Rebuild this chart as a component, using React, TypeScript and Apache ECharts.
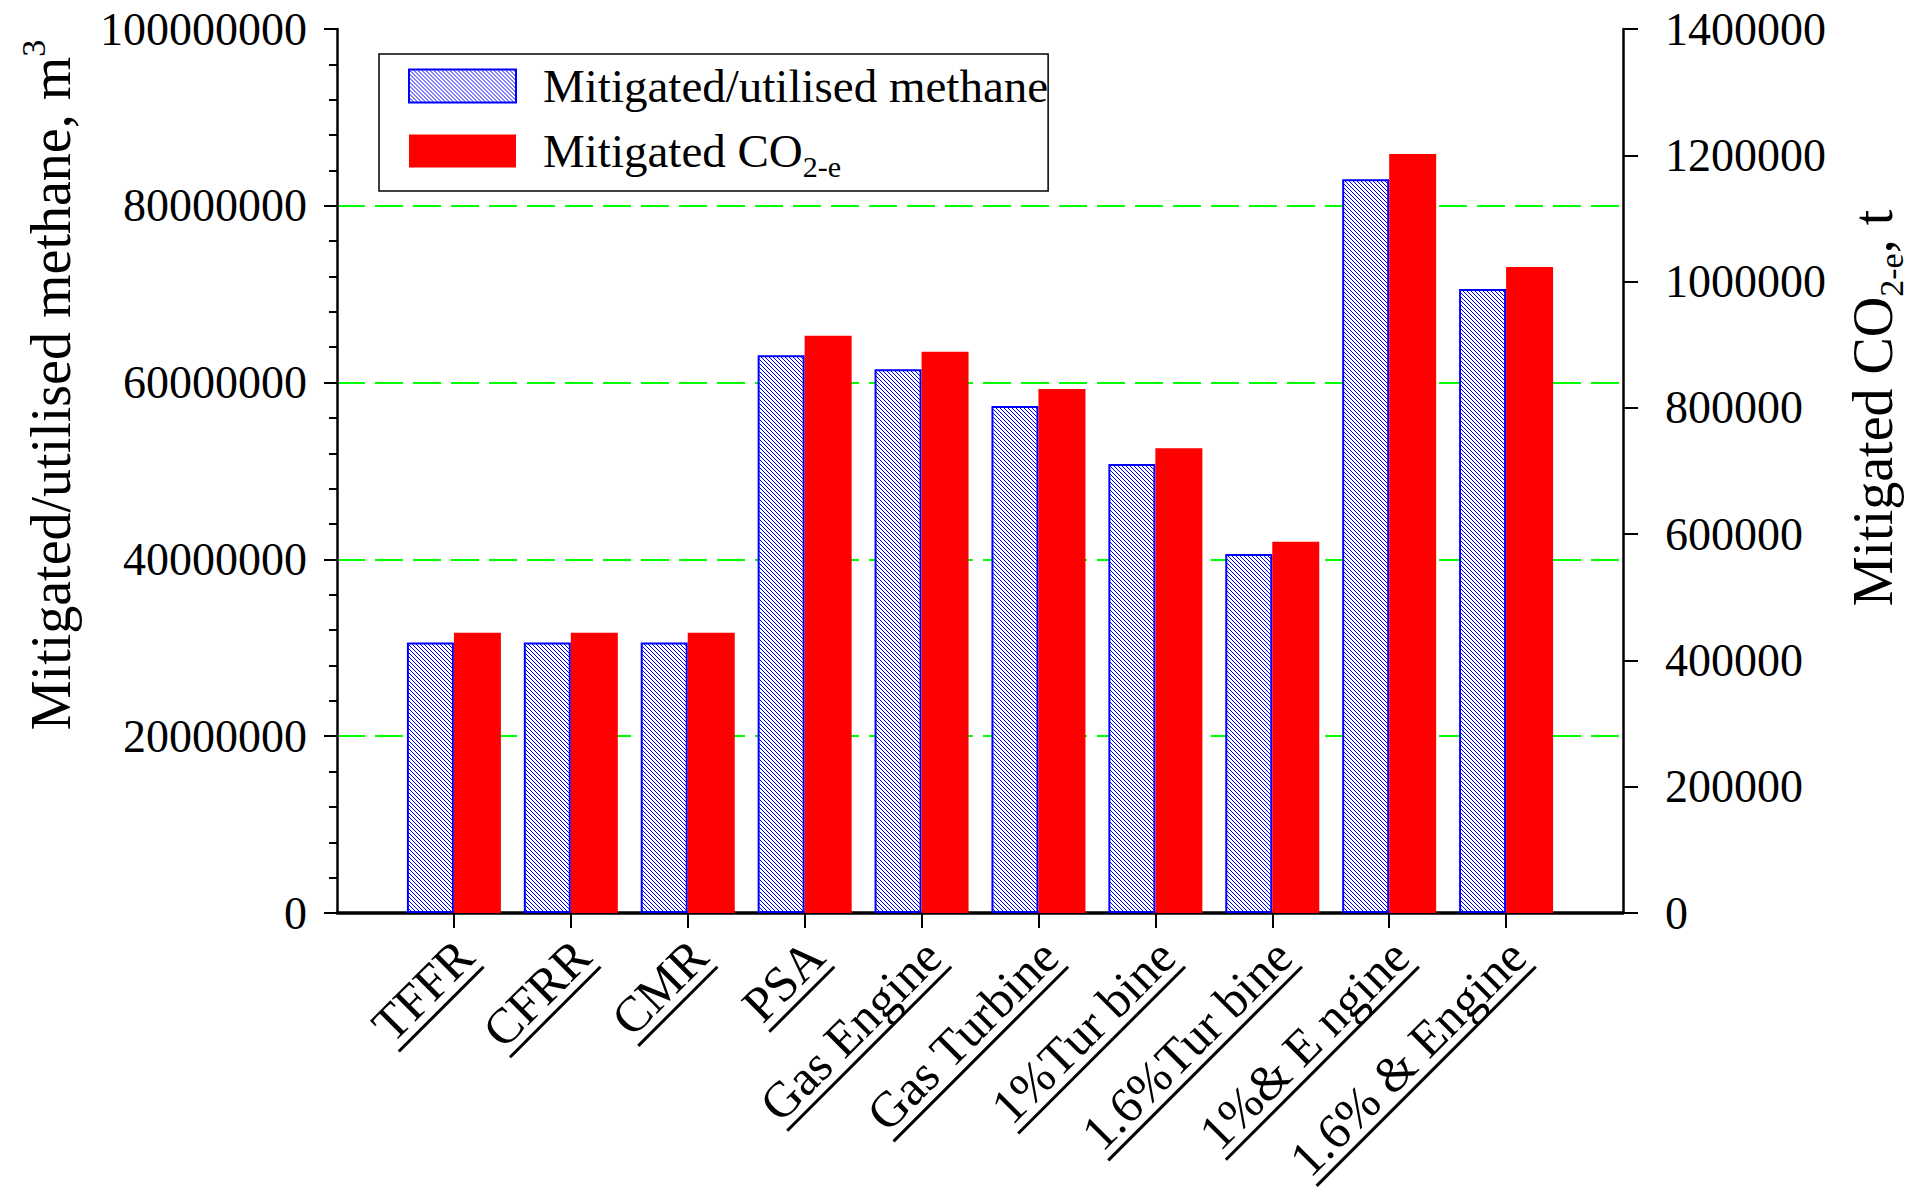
import React, { useEffect, useRef } from 'react';
import * as echarts from 'echarts';

// Treatment options along the x axis
const categories = [
  'TFFR',
  'CFRR',
  'CMR',
  'PSA',
  'Gas Engine',
  'Gas Turbine',
  '1%Tur bine',
  '1.6%Tur bine',
  '1%& E ngine',
  '1.6% & Engine',
];

// Mitigated / utilised methane, m3 (left axis)
const methaneValues = [
  30600000, 30600000, 30600000, 63100000, 61500000, 57350000, 50800000, 40600000, 83000000, 70600000,
];

// Mitigated CO2-e, t (right axis)
const co2Values = [444000, 444000, 444000, 914000, 889000, 830000, 736000, 588000, 1202000, 1023000];

// Axis ranges
const leftMax = 100000000;
const leftStep = 20000000;
const rightMax = 1400000;
const rightStep = 200000;

const FONT = '"Liberation Serif", "Times New Roman", Times, serif';
const X_LABEL_SIZE = 50;

function makeHatch(): HTMLCanvasElement {
  const c = document.createElement('canvas');
  c.width = 4;
  c.height = 4;
  const ctx = c.getContext('2d')!;
  ctx.fillStyle = '#ffffff';
  ctx.fillRect(0, 0, 4, 4);
  ctx.fillStyle = '#0000ff';
  for (let i = 0; i < 4; i++) ctx.fillRect(i, i, 1, 1);
  return c;
}

function measure(texts: string[], font: string): number[] {
  const ctx = document.createElement('canvas').getContext('2d')!;
  ctx.font = font;
  return texts.map((t) => Math.ceil(ctx.measureText(t).width));
}

export default function App() {
  const ref = useRef<HTMLDivElement>(null);

  useEffect(() => {
    document.body.style.margin = '0';
    document.body.style.overflow = 'hidden';
    if (!ref.current) return;
    const chart = echarts.init(ref.current, undefined, { renderer: 'svg' });

    const hatch = makeHatch();
    const labelWidths = measure(categories, `${X_LABEL_SIZE}px ${FONT}`);

    // category slots padded at both ends so the groups sit one step in from the frame
    const xData = ['', ...categories, ''];
    const pad = (arr: number[]) => ['-', ...arr, '-'];

    const underlineRich: Record<string, any> = {
      t: { fontFamily: FONT, fontSize: X_LABEL_SIZE, lineHeight: X_LABEL_SIZE, color: '#000' },
    };
    labelWidths.forEach((w, i) => {
      underlineRich['u' + i] = {
        width: w,
        height: 3,
        lineHeight: 3,
        fontSize: 2,
        backgroundColor: '#000',
      };
    });

    const option: any = {
      animation: false,
      backgroundColor: '#ffffff',
      grid: {
        left: 337,
        right: 300,
        top: 29,
        bottom: 277,
        containLabel: false,
        outerBoundsMode: 'none',
      },
      legend: {
        left: 379,
        top: 54,
        orient: 'vertical',
        padding: [2, 0, 10, 29],
        itemGap: 5,
        itemWidth: 107,
        itemHeight: 33,
        borderColor: '#000',
        borderWidth: 1.5,
        selectedMode: false,
        icon: 'rect',
        data: ['Mitigated/utilised methane', 'Mitigated CO2-e'],
        formatter: (name: string) => (name === 'Mitigated CO2-e' ? 'Mitigated CO{sub|2-e}' : name),
        textStyle: {
          fontFamily: FONT,
          fontSize: 47,
          lineHeight: 60,
          color: '#000',
          padding: [0, 0, 0, 22],
          width: 498,
          overflow: 'none',
          rich: {
            sub: { fontFamily: FONT, fontSize: 30, lineHeight: 30, verticalAlign: 'bottom', color: '#000' },
          },
        },
      },
      xAxis: {
        type: 'category',
        data: xData,
        boundaryGap: false,
        axisLine: { show: true, lineStyle: { color: '#000', width: 3.5 } },
        axisTick: {
          show: true,
          interval: (i: number) => i >= 1 && i <= categories.length,
          length: 15,
          lineStyle: { color: '#000', width: 2 },
        },
        axisLabel: {
          interval: 0,
          rotate: 45,
          margin: 24,
          padding: [34, 0, 0, 0],
          fontFamily: FONT,
          fontSize: X_LABEL_SIZE,
          color: '#000',
          formatter: (value: string, index: number) =>
            value ? `{t|${value}}\n{u${index - 1}| }` : '',
          rich: underlineRich,
        },
        splitLine: { show: false },
      },
      yAxis: [
        {
          type: 'value',
          position: 'left',
          min: 0,
          max: leftMax,
          interval: leftStep,
          name: '{m|Mitigated/utilised methane, m}{sup|3}',
          nameLocation: 'middle',
          nameRotate: 90,
          nameGap: 251,
          nameTextStyle: {
            fontFamily: FONT,
            fontSize: 56,
            color: '#000',
            padding: [0, 0, 0, 172],
            rich: {
              m: { fontFamily: FONT, fontSize: 56, lineHeight: 70, color: '#000' },
              sup: { fontFamily: FONT, fontSize: 34, lineHeight: 34, verticalAlign: 'top', color: '#000' },
            },
          },
          axisLine: { show: true, lineStyle: { color: '#000', width: 2.5 } },
          axisTick: { show: true, length: 13, lineStyle: { color: '#000', width: 2 } },
          minorTick: { show: true, splitNumber: 5, length: 8, lineStyle: { color: '#000', width: 2 } },
          axisLabel: {
            fontFamily: FONT,
            fontSize: 46,
            color: '#000',
            margin: 30,
            formatter: (v: number) => String(v),
          },
          splitLine: {
            show: true,
            showMinLine: false,
            showMaxLine: false,
            lineStyle: { color: '#00ff00', width: 2, type: [28, 10] },
          },
        },
        {
          type: 'value',
          position: 'right',
          min: 0,
          max: rightMax,
          interval: rightStep,
          name: '{m|Mitigated CO}{sub|2-e}{m|, t}',
          nameLocation: 'middle',
          nameRotate: 90,
          nameGap: 215,
          nameTextStyle: {
            fontFamily: FONT,
            fontSize: 56,
            color: '#000',
            padding: [0, 0, 0, 126],
            rich: {
              m: { fontFamily: FONT, fontSize: 56, lineHeight: 70, color: '#000' },
              sub: { fontFamily: FONT, fontSize: 34, lineHeight: 34, verticalAlign: 'bottom', color: '#000' },
            },
          },
          axisLine: { show: true, lineStyle: { color: '#000', width: 2.5 } },
          axisTick: { show: true, length: 15, lineStyle: { color: '#000', width: 2 } },
          axisLabel: {
            fontFamily: FONT,
            fontSize: 46,
            color: '#000',
            margin: 42,
            formatter: (v: number) => String(v),
          },
          splitLine: { show: false },
        },
      ],
      series: [
        {
          type: 'bar',
          name: 'Mitigated/utilised methane',
          yAxisIndex: 0,
          data: pad(methaneValues),
          barWidth: 47,
          barGap: '0%',
          itemStyle: {
            color: { image: hatch, repeat: 'repeat', imageWidth: 4, imageHeight: 4 },
            borderColor: '#0000ff',
            borderWidth: 2,
          },
        },
        {
          type: 'bar',
          name: 'Mitigated CO2-e',
          yAxisIndex: 1,
          data: pad(co2Values),
          barWidth: 47,
          barGap: '0%',
          itemStyle: { color: '#ff0000' },
        },
      ],
    };

    chart.setOption(option);
    return () => chart.dispose();
  }, []);

  return <div ref={ref} style={{ width: 1923, height: 1190, background: '#fff' }} />;
}
